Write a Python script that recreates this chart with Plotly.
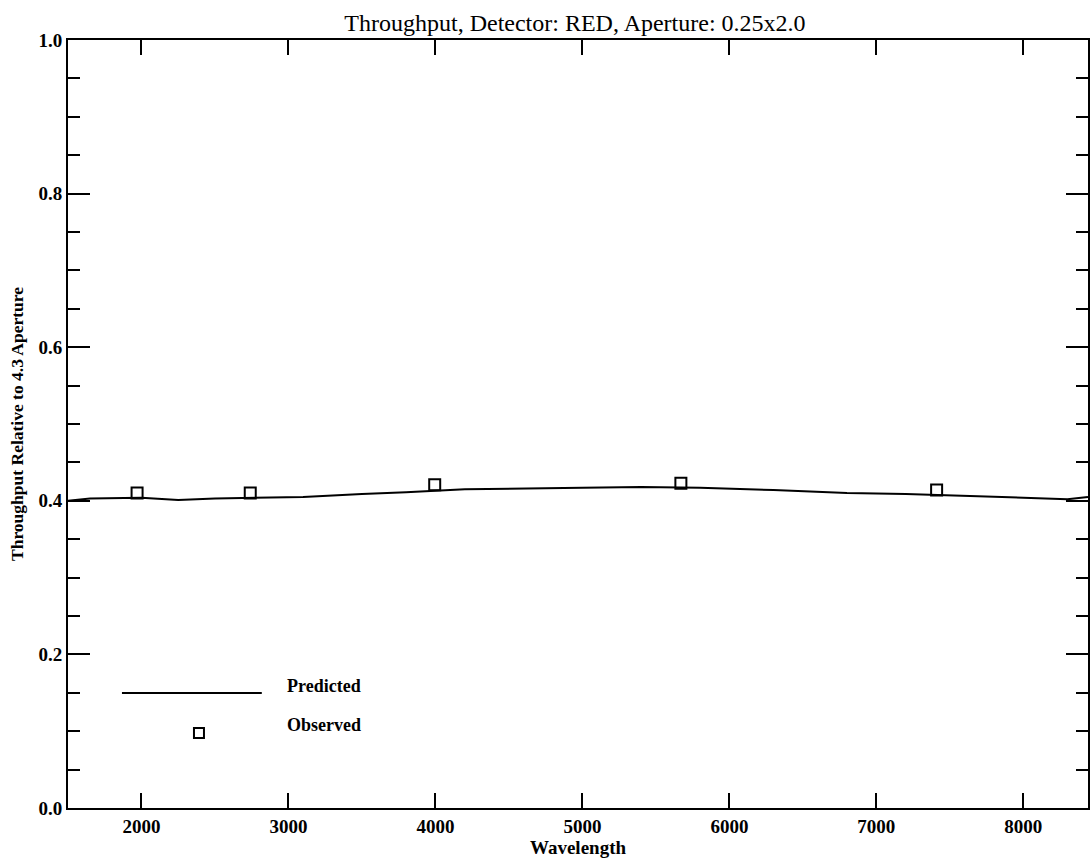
import plotly.graph_objects as go

# Predicted throughput curve
pred_wavelength = [1500, 1650, 2000, 2250, 2500, 2800, 3100, 3500, 3800, 4200, 4500,
                   5000, 5400, 5800, 6300, 6800, 7200, 7500, 7900, 8300, 8440]
pred_throughput = [0.400, 0.403, 0.404, 0.401, 0.403, 0.404, 0.405, 0.409, 0.411, 0.415, 0.416,
                   0.417, 0.418, 0.417, 0.414, 0.410, 0.409, 0.407, 0.404, 0.402, 0.405]

# Observed points
obs_wavelength = [1970, 2740, 3995, 5670, 7410]
obs_throughput = [0.410, 0.410, 0.421, 0.423, 0.414]

x_ticks = [2000, 3000, 4000, 5000, 6000, 7000, 8000]
y_ticks = [0.0, 0.2, 0.4, 0.6, 0.8, 1.0]
y_ticklabels = ["0.0", "0.2", "0.4", "0.6", "0.8", "1.0"]

SERIF = "Liberation Serif, Times New Roman, serif"

fig = go.Figure()
fig.add_trace(go.Scatter(x=pred_wavelength, y=pred_throughput, mode="lines",
                         line=dict(color="black", width=2), name="Predicted",
                         showlegend=False))
fig.add_trace(go.Scatter(x=obs_wavelength, y=obs_throughput, mode="markers",
                         marker=dict(symbol="square-open", size=11, color="black",
                                     line=dict(width=2)),
                         name="Observed", showlegend=False))

# Legend drawn inside the plot area, as in the original
fig.add_shape(type="line", xref="paper", yref="paper", x0=0.0529, x1=0.190, y0=0.1497, y1=0.1497,
              line=dict(color="black", width=2))
fig.add_shape(type="rect", xref="paper", yref="paper", x0=0.1235, x1=0.1333, y0=0.0911, y1=0.1042,
              line=dict(color="black", width=2))
fig.add_annotation(x=0.2127, y=0.1589, xref="paper", yref="paper", text="<b>Predicted</b>",
                   showarrow=False, xanchor="left", yanchor="middle",
                   font=dict(family=SERIF, size=18, color="black"))
fig.add_annotation(x=0.2127, y=0.108, xref="paper", yref="paper", text="<b>Observed</b>",
                   showarrow=False, xanchor="left", yanchor="middle",
                   font=dict(family=SERIF, size=18, color="black"))

axis_common = dict(showline=True, linecolor="black", linewidth=2, mirror="allticks",
                   ticks="inside", tickcolor="black", tickwidth=2, showgrid=False,
                   zeroline=False, automargin=False,
                   tickfont=dict(family=SERIF, size=19, color="black"))

fig.update_layout(
    width=1090, height=860,
    paper_bgcolor="white", plot_bgcolor="white",
    margin=dict(l=68, r=2, t=40, b=52),
    title=dict(text="Throughput, Detector: RED, Aperture: 0.25x2.0",
               x=0.5275, xanchor="center", y=0.974, yanchor="middle",
               font=dict(family=SERIF, size=24, color="black")),
    xaxis=dict(range=[1500, 8440], tickvals=x_ticks, ticklen=15,
               ticktext=[f"<b>{v}</b>" for v in x_ticks],
               title=dict(text="<b>Wavelength</b>", standoff=0,
                          font=dict(family=SERIF, size=19, color="black")),
               **axis_common),
    yaxis=dict(range=[0, 1.0], tickvals=y_ticks, ticklen=22,
               ticktext=[f"<b>{t}</b>" for t in y_ticklabels],
               minor=dict(dtick=0.05, ticks="inside", ticklen=12, tickwidth=2, tickcolor="black"),
               title=dict(text="<b>Throughput Relative to 4.3 Aperture</b>", standoff=10,
                          font=dict(family=SERIF, size=17.5, color="black")),
               **axis_common),
)

fig.write_html("out.html",
               config={"displayModeBar": False},
               post_script="document.body.style.margin='0';document.body.style.overflow='hidden';")
